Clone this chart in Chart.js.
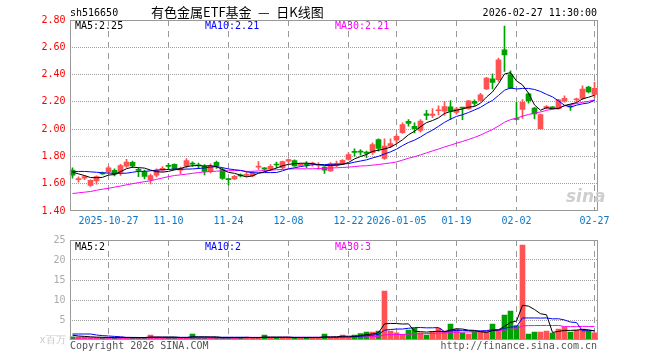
<!DOCTYPE html>
<html>
<head>
<meta charset="utf-8">
<script src="https://cdn.jsdelivr.net/npm/chart.js@4.4.1/dist/chart.umd.min.js"></script>
<style>
  body { margin: 0; background: #fff; width: 660px; height: 360px; overflow: hidden; position: relative;
         font-family: 'DejaVu Sans Mono', monospace; font-size: 10px; }
  canvas { position: absolute; left: 0; }
  #main { top: 0; }
  #vol { top: 230px; }
  .t { position: absolute; white-space: nowrap; line-height: 10px; }
  #title { font-family: 'Noto Sans CJK SC', sans-serif; font-size: 13px; line-height: 14px; }
  #logo { font-family: 'DejaVu Sans', sans-serif; font-size: 17px; font-weight: bold; font-style: italic; color: #cfcfcf; line-height: 17px; }
</style>
</head>
<body>
<canvas id="main" width="660" height="230"></canvas>
<canvas id="vol" width="660" height="130"></canvas>

<div class="t" style="left:70px;top:8px">sh516650</div>
<div class="t" id="title" style="left:151px;top:5px">有色金属ETF基金&ensp;—&ensp;日K线图</div>
<div class="t" id="stamp" style="right:63px;top:8px">2026-02-27 11:30:00</div>

<div class="t" id="lgMa5" style="left:75px;top:21px;color:#000"></div>
<div class="t" id="lgMa10" style="left:205px;top:21px;color:#0000ff"></div>
<div class="t" id="lgMa30" style="left:335px;top:21px;color:#ff00ff"></div>

<div class="t" id="lgVol5" style="left:75px;top:242px;color:#000"></div>
<div class="t" id="lgVol10" style="left:205px;top:242px;color:#0000ff"></div>
<div class="t" id="lgVol30" style="left:335px;top:242px;color:#ff00ff"></div>

<div class="t" id="logo" style="left:566px;top:188px">sina</div>
<div class="t" style="left:70px;top:341px;color:#555">Copyright 2026 SINA.COM</div>
<div class="t" style="right:63px;top:341px;color:#555">http://finance.sina.com.cn</div>

<script>
// Data
const dates = [
  '2025-10-17','2025-10-20','2025-10-21','2025-10-22','2025-10-23','2025-10-24',
  '2025-10-27','2025-10-28','2025-10-29','2025-10-30','2025-10-31',
  '2025-11-03','2025-11-04','2025-11-05','2025-11-06','2025-11-07',
  '2025-11-10','2025-11-11','2025-11-12','2025-11-13','2025-11-14',
  '2025-11-17','2025-11-18','2025-11-19','2025-11-20','2025-11-21',
  '2025-11-24','2025-11-25','2025-11-26','2025-11-27','2025-11-28',
  '2025-12-01','2025-12-02','2025-12-03','2025-12-04','2025-12-05',
  '2025-12-08','2025-12-09','2025-12-10','2025-12-11','2025-12-12',
  '2025-12-15','2025-12-16','2025-12-17','2025-12-18','2025-12-19',
  '2025-12-22','2025-12-23','2025-12-24','2025-12-25','2025-12-26',
  '2025-12-29','2025-12-30','2025-12-31',
  '2026-01-05','2026-01-06','2026-01-07','2026-01-08','2026-01-09',
  '2026-01-12','2026-01-13','2026-01-14','2026-01-15','2026-01-16',
  '2026-01-19','2026-01-20','2026-01-21','2026-01-22','2026-01-23',
  '2026-01-26','2026-01-27','2026-01-28','2026-01-29','2026-01-30',
  '2026-02-02','2026-02-03','2026-02-04','2026-02-05','2026-02-06',
  '2026-02-09','2026-02-10','2026-02-11','2026-02-12','2026-02-13',
  '2026-02-24','2026-02-25','2026-02-26','2026-02-27'
];

const open = [
  1.700,1.630,1.640,1.588,1.620,1.680,1.686,1.698,1.682,1.728,1.756,
  1.702,1.688,1.628,1.662,1.700,1.731,1.742,1.700,1.728,1.748,
  1.736,1.728,1.688,1.756,1.703,1.634,1.636,1.664,1.660,1.658,
  1.722,1.717,1.707,1.741,1.718,1.765,1.770,1.735,1.743,1.744,
  1.735,1.722,1.693,1.735,1.745,1.778,1.834,1.836,1.832,1.828,
  1.924,1.785,1.876,
  1.920,1.975,2.058,2.020,1.990,2.112,2.100,2.135,2.132,2.163,
  2.122,2.158,2.150,2.204,2.211,2.294,2.369,2.362,2.581,2.400,
  2.074,2.145,2.258,2.155,2.004,2.158,2.160,2.150,2.205,2.164,
  2.214,2.225,2.309,2.255
];
const high = [
  1.717,1.650,1.660,1.628,1.658,1.685,1.728,1.710,1.742,1.778,1.765,
  1.712,1.700,1.670,1.710,1.726,1.748,1.745,1.722,1.785,1.760,
  1.752,1.740,1.745,1.765,1.715,1.636,1.662,1.672,1.686,1.690,
  1.762,1.719,1.740,1.759,1.766,1.782,1.775,1.750,1.763,1.758,
  1.754,1.725,1.754,1.766,1.776,1.827,1.856,1.851,1.839,1.900,
  1.929,1.929,1.929,
  1.961,2.046,2.070,2.046,2.070,2.138,2.150,2.170,2.204,2.209,
  2.160,2.160,2.212,2.214,2.262,2.380,2.406,2.520,2.756,2.428,
  2.197,2.216,2.265,2.160,2.110,2.172,2.165,2.218,2.245,2.179,
  2.228,2.318,2.314,2.343
];
const low = [
  1.640,1.612,1.630,1.580,1.597,1.668,1.675,1.657,1.660,1.720,1.718,
  1.652,1.635,1.598,1.650,1.690,1.705,1.703,1.672,1.715,1.726,
  1.710,1.665,1.680,1.712,1.632,1.592,1.630,1.650,1.652,1.650,
  1.705,1.688,1.693,1.717,1.705,1.750,1.727,1.730,1.717,1.729,
  1.705,1.676,1.690,1.725,1.740,1.773,1.802,1.810,1.790,1.815,
  1.839,1.778,1.864,
  1.900,1.968,2.022,1.973,1.978,2.070,2.085,2.105,2.100,2.070,
  2.110,2.070,2.145,2.172,2.205,2.290,2.294,2.350,2.423,2.297,
  2.068,2.078,2.190,2.075,2.000,2.148,2.150,2.146,2.197,2.138,
  2.197,2.216,2.265,2.230
];
const close = [
  1.662,1.632,1.652,1.625,1.652,1.672,1.716,1.670,1.733,1.758,1.730,
  1.698,1.654,1.660,1.700,1.712,1.727,1.707,1.712,1.770,1.744,
  1.732,1.690,1.727,1.731,1.638,1.630,1.655,1.658,1.668,1.678,
  1.724,1.706,1.727,1.737,1.762,1.777,1.730,1.745,1.739,1.746,
  1.740,1.700,1.745,1.748,1.772,1.814,1.830,1.832,1.822,1.887,
  1.858,1.875,1.895,
  1.948,2.034,2.042,2.003,2.060,2.100,2.110,2.140,2.165,2.132,
  2.148,2.154,2.208,2.188,2.252,2.374,2.343,2.508,2.544,2.301,
  2.071,2.197,2.206,2.112,2.107,2.163,2.156,2.214,2.225,2.162,
  2.216,2.293,2.272,2.300
];
// volume, millions
const volume = [
  0.8,0.8,0.8,0.6,0.6,0.6,0.6,0.6,0.7,0.6,0.6,
  0.6,0.6,1.2,0.7,0.6,0.6,0.6,0.6,0.6,1.5,
  0.6,0.6,0.6,0.6,0.6,0.6,0.6,0.6,0.6,0.6,
  0.6,1.2,0.6,0.6,0.6,0.6,0.6,0.6,0.6,0.6,
  0.6,1.5,0.6,0.7,1.25,0.7,1.25,1.6,2.0,2.0,
  2.25,12.25,2.25,
  1.8,1.4,2.5,2.9,1.8,1.25,2.1,2.9,2.25,4.0,
  2.75,1.8,1.5,2.0,2.25,2.0,4.0,2.5,6.25,7.25,
  3.6,23.75,1.5,2.0,2.0,2.25,1.75,2.75,3.25,2.0,
  2.5,2.75,2.25,1.8
];

// moving-average values at the left edge (earlier days are off the chart)
const ma5Head = [1.685, 1.672, 1.660, 1.645];
const ma10Head = [1.688, 1.690, 1.690, 1.687, 1.684, 1.680, 1.678, 1.676, 1.676];
const ma30Head = [1.528, 1.533, 1.538, 1.543, 1.552, 1.560, 1.566, 1.575, 1.583, 1.592,
                  1.600, 1.608, 1.615, 1.622, 1.632, 1.642, 1.652, 1.660, 1.665, 1.670,
                  1.676, 1.682, 1.686, 1.689, 1.692, 1.694, 1.695, 1.696, 1.697];
const volMa5Head = [1.2, 1.0, 0.9, 0.8];
const volMa10Head = [1.5, 1.5, 1.5, 1.5, 1.25, 1.1, 1.0, 0.9, 0.8];
const volMa30Head = [0.5, 0.5, 0.5, 0.5, 0.5, 0.5, 0.5, 0.5, 0.5, 0.5,
                     0.5, 0.5, 0.5, 0.5, 0.5, 0.5, 0.5, 0.5, 0.5, 0.5,
                     0.5, 0.5, 0.5, 0.5, 0.5, 0.5, 0.5, 0.5, 0.5];

const tickDates = ['2025-10-27','2025-11-10','2025-11-24','2025-12-08','2025-12-22',
                   '2026-01-05','2026-01-19','2026-02-02','2026-02-27'];
const tickLabels = ['2025-10-27','11-10','11-24','12-08','12-22','2026-01-05','01-19','02-02','02-27'];
const priceTicks = [1.40, 1.60, 1.80, 2.00, 2.20, 2.40, 2.60, 2.80];
const volTicks = [0, 5, 10, 15, 20, 25];

// Styles
const UP = '#ff5252';
const DOWN = '#00a000';
const MONO = "'DejaVu Sans Mono', monospace";
const VGRID = '#999999';
const HGRID = '#a0a0a0';

function movingAvg(values, n, head) {
  return values.map((v, i) => {
    if (i < n - 1) return head[i];
    let s = 0;
    for (let k = i - n + 1; k <= i; k++) s += values[k];
    return s / n;
  });
}

const colors = close.map((c, i) => c >= open[i] ? UP : DOWN);
const bodies = open.map((o, i) => [o, close[i]]);
const wicks = low.map((l, i) => [l, high[i]]);

const ma5 = movingAvg(close, 5, ma5Head);
const ma10 = movingAvg(close, 10, ma10Head);
const ma30 = movingAvg(close, 30, ma30Head);
const volMa5 = movingAvg(volume, 5, volMa5Head);
const volMa10 = movingAvg(volume, 10, volMa10Head);
const volMa30 = movingAvg(volume, 30, volMa30Head);

const last = arr => arr[arr.length - 1];
document.getElementById('lgMa5').textContent = 'MA5:' + last(ma5).toFixed(2);
document.getElementById('lgMa10').textContent = 'MA10:' + last(ma10).toFixed(2);
document.getElementById('lgMa30').textContent = 'MA30:' + last(ma30).toFixed(2);
document.getElementById('lgVol5').textContent = 'MA5:' + Math.round(last(volMa5));
document.getElementById('lgVol10').textContent = 'MA10:' + Math.round(last(volMa10));
document.getElementById('lgVol30').textContent = 'MA30:' + Math.round(last(volMa30));

// plot frame
const frame = {
  id: 'frame',
  afterDraw(chart) {
    const { ctx, chartArea: a } = chart;
    const x1 = Math.round(a.left) + 0.5, x2 = Math.round(a.right) - 0.5;
    const y1 = Math.round(a.top) + 0.5, y2 = Math.round(a.bottom) - 0.5;
    ctx.save();
    ctx.strokeStyle = '#999';
    ctx.lineWidth = 1;
    ctx.strokeRect(x1, y1, x2 - x1, y2 - y1);
    ctx.restore();
  }
};

const lineSet = (data, color) => ({
  type: 'line', data, borderColor: color, borderWidth: 1, pointRadius: 0, tension: 0, order: 0
});

const xScale = (showLabels) => ({
  offset: true,
  grid: {
    offset: false, drawTicks: false, lineWidth: 1,
    color: c => tickDates.includes(dates[c.index]) ? VGRID : 'rgba(0,0,0,0)'
  },
  border: { display: false, dash: [6, 5] },
  ticks: {
    display: showLabels, autoSkip: false, maxRotation: 0, minRotation: 0, padding: 4,
    color: '#0a78c8', font: { family: MONO, size: 10 },
    callback: (v, i) => {
      const k = tickDates.indexOf(dates[i]);
      return k >= 0 ? tickLabels[k] : '';
    }
  },
  afterFit: s => { s.height = showLabels ? 19 : 0; }
});

new Chart(document.getElementById('main'), {
  type: 'bar',
  data: {
    labels: dates,
    datasets: [
      lineSet(ma5, '#000000'),
      lineSet(ma10, '#0000ff'),
      lineSet(ma30, '#ff00ff'),
      { data: bodies, backgroundColor: colors, barThickness: 5, minBarLength: 1, grouped: false, order: 1 },
      { data: wicks, backgroundColor: colors, barThickness: 1, grouped: false, order: 2 }
    ]
  },
  options: {
    responsive: false,
    animation: false,
    layout: { padding: { left: 0, right: 62.5, top: 20, bottom: 0 } },
    plugins: { legend: { display: false }, tooltip: { enabled: false } },
    scales: {
      x: xScale(true),
      y: {
        min: priceTicks[0], max: priceTicks[priceTicks.length - 1],
        afterBuildTicks: s => { s.ticks = priceTicks.map(v => ({ value: v })); },
        grid: {
          drawTicks: false,
          color: c => (c.index > 0 && c.index < priceTicks.length - 1) ? HGRID : 'rgba(0,0,0,0)'
        },
        border: { display: false, dash: [1, 1] },
        ticks: { color: '#ff0000', padding: 4, font: { family: MONO, size: 10 }, callback: v => v.toFixed(2) },
        afterFit: s => { s.width = 69.5; }
      }
    }
  },
  plugins: [frame]
});

new Chart(document.getElementById('vol'), {
  type: 'bar',
  data: {
    labels: dates,
    datasets: [
      lineSet(volMa5, '#000000'),
      lineSet(volMa10, '#0000ff'),
      lineSet(volMa30, '#ff00ff'),
      { data: volume, backgroundColor: colors, barThickness: 5, grouped: false, order: 1 }
    ]
  },
  options: {
    responsive: false,
    animation: false,
    layout: { padding: { left: 0, right: 62.5, top: 10, bottom: 20 } },
    plugins: { legend: { display: false }, tooltip: { enabled: false } },
    scales: {
      x: xScale(false),
      y: {
        min: volTicks[0], max: volTicks[volTicks.length - 1],
        afterBuildTicks: s => { s.ticks = volTicks.map(v => ({ value: v })); },
        grid: {
          drawTicks: false,
          color: c => (c.index > 0 && c.index < volTicks.length - 1) ? HGRID : 'rgba(0,0,0,0)'
        },
        border: { display: false, dash: [1, 1] },
        ticks: {
          padding: 4, font: { family: MONO, size: 10 },
          color: c => c.index === 0 ? '#c8c8c8' : '#aaaaaa',
          callback: v => v === 0 ? 'x百万' : String(v)
        },
        afterFit: s => { s.width = 69.5; }
      }
    }
  },
  plugins: [frame]
});
</script>
</body>
</html>
